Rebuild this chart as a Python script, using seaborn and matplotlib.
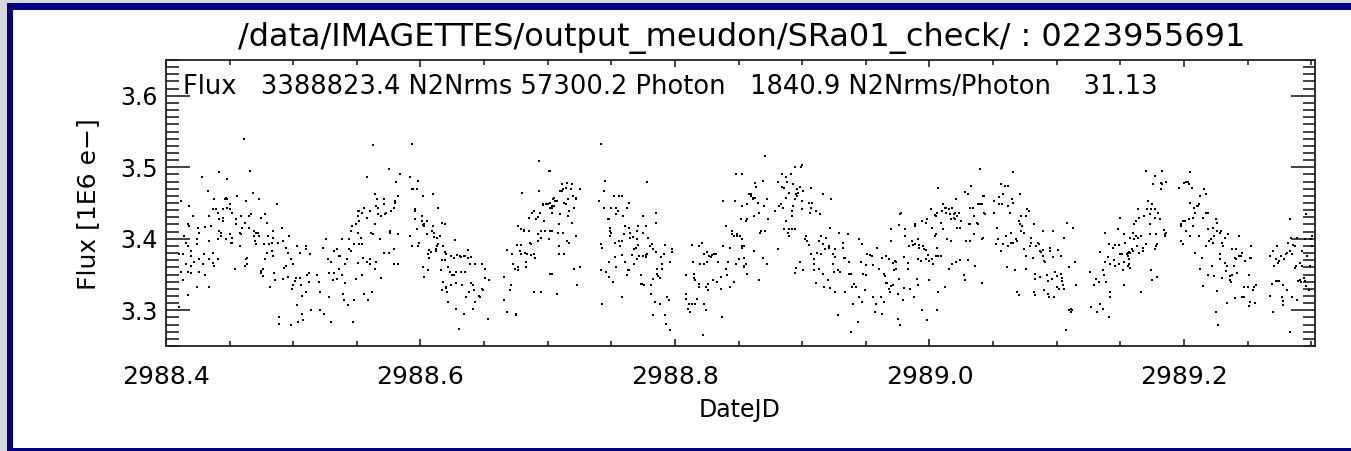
import numpy as np
import pandas as pd
import seaborn as sns
import matplotlib.pyplot as plt
from matplotlib.ticker import MultipleLocator, FormatStrFormatter
from matplotlib.patches import Rectangle

# time offsets (days from t0) and flux (1E6 e-)
t0 = 2988.4

seg_1 = [(.012,3.453),(.018,3.446),(.021,3.432),(.017,3.420),(.018,3.418),(.014,3.404),(.016,3.394),(.010,3.378),(.013,3.378),
 (.012,3.354),(.013,3.342),(.017,3.390),(.016,3.364),(.020,3.383),(.020,3.376),(.020,3.362),(.017,3.354),(.020,3.352),(.022,3.368),
 (.024,3.392),(.025,3.415),(.024,3.399),(.026,3.371),(.026,3.354),(.024,3.333),(.017,3.321),(.010,3.305),(.028,3.486),(.026,3.408),
 (.031,3.416),(.030,3.378),(.029,3.364),(.031,3.349),(.033,3.467),(.034,3.432),(.034,3.397),(.034,3.371),(.034,3.333),(.035,3.418),
 (.037,3.441),(.037,3.380),(.037,3.366),(.038,3.362),(.039,3.441),(.038,3.455),(.041,3.399),(.041,3.371),(.041,3.436),(.042,3.427),
 (.042,3.493),(.042,3.411),(.043,3.404),(.043,3.408),(.045,3.441),(.045,3.429),(.045,3.425),(.046,3.455),(.047,3.457),(.048,3.484),
 (.048,3.443),(.048,3.455),(.050,3.448),(.050,3.441),(.047,3.399),(.050,3.406),(.051,3.394),(.052,3.394),(.052,3.436),(.052,3.401),
 (.054,3.358),(.055,3.427),(.055,3.420),(.056,3.460),(.058,3.408),(.058,3.390),(.059,3.432),(.059,3.406),(.060,3.415),(.061,3.540),
 (.062,3.422),(.062,3.362),(.063,3.371),(.063,3.453),(.064,3.373),(.064,3.365),(.065,3.432),(.065,3.415),(.066,3.495),(.067,3.434),
 (.068,3.464),(.069,3.404),(.069,3.411),(.070,3.397),(.071,3.392),(.071,3.408),(.072,3.408),(.073,3.456),(.073,3.404),(.075,3.429),
 (.075,3.355),(.075,3.352),(.076,3.357),(.076,3.348),(.077,3.392),(.078,3.434),(.078,3.371),(.079,3.422),(.079,3.380),(.080,3.404),
 (.081,3.392),(.082,3.333),(.083,3.394),(.083,3.383),(.084,3.376),(.084,3.411),(.084,3.401),(.085,3.352),(.086,3.342),(.087,3.448),
 (.088,3.394),(.089,3.290),(.089,3.281),(.091,3.415),(.092,3.344),(.092,3.397),(.093,3.359),(.094,3.362),(.094,3.387),(.096,3.347),
 (.096,3.380),(.097,3.404),(.098,3.279),(.098,3.371),(.099,3.330),(.100,3.336),(.100,3.365),(.101,3.341),(.102,3.345),(.103,3.307),
 (.103,3.390),(.104,3.284),(.105,3.345),(.105,3.380),(.106,3.335),(.107,3.295),(.107,3.320),(.108,3.286),(.110,3.390),(.110,3.385),
 (.110,3.326),(.111,3.349),(.112,3.352),(.112,3.339),(.113,3.378),(.114,3.300),(.119,3.350),(.120,3.339),(.121,3.300),(.121,3.326),
 (.123,3.387),(.124,3.295),(.126,3.399),(.127,3.371),(.128,3.318),(.128,3.352),(.130,3.367),(.130,3.284),(.131,3.343),(.132,3.352),
 (.132,3.383),(.134,3.385),(.134,3.344),(.136,3.376),(.136,3.357),(.137,3.376),(.138,3.350),(.138,3.399),(.139,3.323),(.140,3.314),
 (.141,3.365),(.141,3.338),(.142,3.371),(.143,3.307),(.144,3.399),(.144,3.385),(.145,3.383),(.145,3.411),(.146,3.418),(.147,3.284),
 (.148,3.314),(.148,3.392),(.149,3.344),(.149,3.420),(.151,3.432),(.151,3.366),(.152,3.439)]

seg_2 = [(.151,3.439),(.152,3.425),(.151,3.408),(.152,3.392),(.154,3.392),(.153,3.401),(.151,3.366),(.154,3.436),(.155,3.373),
 (.154,3.349),(.156,3.443),(.158,3.429),(.158,3.368),(.158,3.486),(.159,3.314),(.156,3.323),(.160,3.439),(.160,3.365),(.160,3.371),
 (.161,3.408),(.163,3.531),(.162,3.326),(.163,3.406),(.164,3.462),(.164,3.420),(.164,3.358),(.165,3.446),(.165,3.367),(.166,3.455),
 (.167,3.434),(.167,3.443),(.168,3.399),(.169,3.432),(.169,3.345),(.171,3.455),(.171,3.448),(.171,3.380),(.172,3.434),(.173,3.436),
 (.175,3.498),(.175,3.380),(.176,3.411),(.176,3.408),(.177,3.439),(.179,3.443),(.179,3.385),(.179,3.364),(.180,3.453),(.180,3.450),
 (.181,3.479),(.182,3.460),(.182,3.406),(.182,3.365),(.184,3.491),(.192,3.486),(.192,3.404),(.193,3.533),(.193,3.470),(.193,3.390),
 (.194,3.470),(.196,3.441),(.196,3.439),(.197,3.470),(.196,3.427),(.197,3.413),(.198,3.481),(.198,3.390),(.199,3.394),(.201,3.432),
 (.201,3.425),(.202,3.460),(.202,3.419),(.203,3.418),(.203,3.420),(.202,3.361),(.203,3.347),(.205,3.425),(.205,3.406),(.206,3.379),
 (.206,3.356),(.207,3.373),(.207,3.384),(.208,3.382),(.209,3.411),(.210,3.418),(.210,3.462),(.211,3.403),(.211,3.408),(.212,3.385),
 (.212,3.383),(.213,3.390),(.213,3.401),(.214,3.443),(.214,3.392),(.215,3.404),(.216,3.356),(.217,3.422),(.217,3.370),(.217,3.328),
 (.218,3.390),(.218,3.340),(.219,3.382),(.219,3.420),(.219,3.370),(.220,3.333),(.220,3.378),(.220,3.331),(.221,3.326),(.222,3.361),
 (.222,3.311),(.223,3.354),(.224,3.376),(.224,3.335),(.225,3.349),(.226,3.373),(.226,3.349),(.227,3.398),(.228,3.354),(.228,3.302),
 (.228,3.338),(.229,3.377),(.230,3.274),(.231,3.376),(.232,3.375),(.232,3.354),(.233,3.335),(.234,3.376),(.234,3.295),(.235,3.376),
 (.235,3.354),(.236,3.318),(.237,3.373),(.237,3.384),(.238,3.326),(.239,3.365),(.240,3.338),(.240,3.375),(.241,3.335),(.241,3.302),
 (.242,3.328),(.243,3.365),(.243,3.311),(.246,3.320),(.247,3.318),(.248,3.330),(.248,3.365),(.249,3.328),(.251,3.358),(.251,3.345),
 (.253,3.288),(.254,3.342),(.266,3.347),(.266,3.314),(.268,3.298),(.268,3.384),(.270,3.328),(.271,3.335),(.272,3.379),(.273,3.365),
 (.274,3.358),(.275,3.295),(.275,3.293),(.276,3.391),(.276,3.391),(.277,3.361),(.277,3.356),(.277,3.418),(.278,3.383),(.279,3.391),
 (.279,3.413),(.279,3.379),(.280,3.464),(.281,3.411),(.281,3.412),(.282,3.380),(.283,3.367),(.283,3.361),(.284,3.379),(.285,3.429),
 (.285,3.411),(.286,3.394),(.287,3.392),(.287,3.377),(.288,3.436),(.289,3.439),(.289,3.379),(.289,3.326),(.290,3.373),(.290,3.373),
 (.291,3.427),(.292,3.406),(.292,3.431),(.292,3.397),(.293,3.509),(.293,3.467),(.294,3.436),(.295,3.401),(.295,3.411),(.295,3.326),
 (.296,3.448),(.296,3.447),(.297,3.425),(.298,3.411),(.299,3.448),(.300,3.449),(.301,3.399),(.301,3.495),(.302,3.450),(.302,3.443),
 (.303,3.411),(.303,3.351),(.303,3.436),(.304,3.456)]

seg_3 = [(.302,3.495),(.302,3.411),(.302,3.351),(.303,3.446),(.303,3.443),(.304,3.455),(.305,3.457),(.305,3.446),(.306,3.453),
 (.307,3.323),(.307,3.453),(.308,3.408),(.309,3.390),(.309,3.379),(.309,3.390),(.309,3.420),(.310,3.467),(.310,3.434),(.311,3.476),
 (.311,3.467),(.312,3.408),(.312,3.469),(.313,3.450),(.313,3.379),(.314,3.448),(.314,3.471),(.315,3.397),(.315,3.478),(.316,3.432),
 (.316,3.455),(.317,3.439),(.317,3.394),(.318,3.469),(.319,3.422),(.319,3.476),(.320,3.460),(.321,3.443),(.321,3.358),(.322,3.457),
 (.322,3.456),(.322,3.404),(.323,3.335),(.325,3.470),(.325,3.361),(.340,3.453),(.342,3.533),(.342,3.392),(.342,3.356),(.343,3.309),
 (.343,3.387),(.344,3.467),(.344,3.443),(.345,3.481),(.346,3.354),(.347,3.427),(.348,3.367),(.348,3.347),(.348,3.427),(.349,3.415),
 (.349,3.411),(.349,3.404),(.350,3.443),(.350,3.408),(.351,3.339),(.352,3.460),(.353,3.394),(.353,3.375),(.354,3.443),(.354,3.434),
 (.354,3.361),(.355,3.439),(.356,3.397),(.356,3.460),(.357,3.390),(.358,3.377),(.358,3.460),(.358,3.397),(.358,3.318),(.359,3.432),
 (.360,3.406),(.361,3.418),(.361,3.368),(.362,3.443),(.362,3.349),(.363,3.356),(.364,3.415),(.364,3.356),(.364,3.450),(.365,3.401),
 (.365,3.408),(.366,3.377),(.367,3.402),(.368,3.365),(.368,3.385),(.369,3.387),(.370,3.371),(.370,3.411),(.370,3.399),(.371,3.391),
 (.371,3.418),(.372,3.376),(.373,3.349),(.373,3.337),(.374,3.337),(.375,3.376),(.375,3.432),(.375,3.408),(.376,3.335),(.377,3.375),
 (.377,3.418),(.377,3.377),(.378,3.479),(.378,3.378),(.379,3.401),(.380,3.390),(.381,3.323),(.381,3.335),(.382,3.393),(.383,3.344),
 (.383,3.386),(.383,3.293),(.384,3.311),(.385,3.436),(.385,3.382),(.385,3.422),(.386,3.358),(.386,3.351),(.387,3.348),(.388,3.309),
 (.388,3.345),(.389,3.375),(.390,3.358),(.390,3.364),(.391,3.379),(.392,3.293),(.392,3.391),(.393,3.281),(.394,3.318),(.395,3.314),
 (.396,3.272),(.396,3.368),(.398,3.386),(.398,3.382),(.409,3.349),(.409,3.323),(.409,3.316),(.410,3.302),(.411,3.309),(.412,3.298),
 (.413,3.309),(.413,3.391),(.414,3.368),(.415,3.351),(.415,3.345),(.416,3.342),(.416,3.309),(.417,3.316),(.419,3.332),(.419,3.390),
 (.419,3.337),(.420,3.364),(.421,3.394),(.422,3.266),(.423,3.379),(.423,3.309),(.423,3.364),(.424,3.300),(.424,3.332),(.425,3.382),
 (.425,3.368),(.426,3.337),(.426,3.328),(.427,3.376),(.428,3.375),(.429,3.377),(.430,3.342),(.431,3.379),(.432,3.379),(.432,3.379),
 (.433,3.339),(.434,3.368),(.434,3.368),(.436,3.347),(.436,3.330),(.437,3.290),(.438,3.453),(.438,3.390),(.440,3.418),(.440,3.358),
 (.441,3.349),(.442,3.368),(.443,3.387),(.443,3.332),(.445,3.411),(.445,3.406),(.446,3.404),(.446,3.339),(.447,3.453),(.448,3.365),
 (.448,3.491),(.449,3.406),(.449,3.404),(.450,3.371),(.451,3.404),(.452,3.427),(.453,3.446),(.453,3.387),(.453,3.390),(.454,3.373),
 (.454,3.362)]

seg_4 = [(.453,3.491),(.453,3.446),(.453,3.399),(.454,3.390),(.454,3.361),(.456,3.365),(.456,3.425),(.457,3.427),(.457,3.351),
 (.457,3.448),(.458,3.462),(.460,3.462),(.460,3.460),(.461,3.457),(.461,3.455),(.462,3.432),(.462,3.383),(.463,3.457),(.463,3.478),
 (.464,3.473),(.465,3.450),(.466,3.342),(.466,3.436),(.467,3.408),(.468,3.411),(.469,3.481),(.469,3.373),(.470,3.446),(.471,3.516),
 (.471,3.411),(.472,3.455),(.472,3.364),(.473,3.427),(.479,3.439),(.481,3.480),(.481,3.385),(.482,3.446),(.483,3.448),(.484,3.491),
 (.484,3.473),(.485,3.443),(.486,3.471),(.486,3.413),(.487,3.425),(.487,3.457),(.487,3.486),(.488,3.480),(.488,3.480),(.489,3.408),
 (.490,3.413),(.490,3.404),(.490,3.464),(.491,3.491),(.492,3.432),(.492,3.439),(.492,3.413),(.493,3.477),(.493,3.446),(.494,3.413),
 (.494,3.500),(.494,3.352),(.494,3.456),(.495,3.462),(.495,3.359),(.496,3.460),(.496,3.469),(.497,3.464),(.498,3.472),(.498,3.368),
 (.499,3.501),(.500,3.441),(.500,3.503),(.500,3.453),(.501,3.356),(.501,3.467),(.502,3.399),(.503,3.404),(.504,3.397),(.505,3.450),
 (.505,3.391),(.506,3.436),(.507,3.443),(.507,3.379),(.507,3.471),(.508,3.450),(.509,3.365),(.509,3.356),(.509,3.372),(.511,3.338),
 (.511,3.439),(.512,3.380),(.513,3.397),(.513,3.358),(.514,3.434),(.515,3.378),(.515,3.404),(.516,3.392),(.516,3.351),(.516,3.463),
 (.517,3.333),(.518,3.385),(.519,3.401),(.520,3.342),(.521,3.390),(.521,3.387),(.522,3.331),(.522,3.415),(.523,3.456),(.524,3.365),
 (.524,3.379),(.525,3.354),(.526,3.385),(.526,3.375),(.526,3.326),(.528,3.293),(.528,3.356),(.529,3.408),(.530,3.354),(.530,3.354),
 (.532,3.394),(.532,3.387),(.533,3.373),(.534,3.326),(.534,3.373),(.536,3.406),(.537,3.351),(.537,3.367),(.538,3.351),(.538,3.269),
 (.539,3.332),(.540,3.309),(.541,3.337),(.542,3.332),(.542,3.332),(.544,3.284),(.545,3.399),(.545,3.318),(.546,3.368),(.547,3.393),
 (.547,3.311),(.548,3.351),(.549,3.328),(.550,3.363),(.550,3.349),(.551,3.378),(.553,3.377),(.555,3.376),(.556,3.318),(.556,3.363),
 (.557,3.298),(.558,3.309),(.559,3.387),(.560,3.358),(.562,3.318),(.563,3.373),(.563,3.295),(.564,3.312),(.564,3.351),(.565,3.348),
 (.566,3.376),(.566,3.338),(.567,3.338),(.568,3.330),(.568,3.371),(.569,3.326),(.570,3.397),(.570,3.413),(.570,3.334),(.571,3.366),
 (.571,3.335),(.572,3.356),(.573,3.369),(.574,3.358),(.574,3.368),(.575,3.323),(.575,3.288),(.576,3.344),(.576,3.419),(.577,3.279),
 (.577,3.434),(.578,3.436),(.579,3.314),(.580,3.375),(.580,3.331),(.581,3.404),(.581,3.413),(.583,3.358),(.583,3.366),(.584,3.390),
 (.585,3.330),(.586,3.397),(.587,3.391),(.588,3.318),(.589,3.392),(.589,3.420),(.589,3.418),(.590,3.344),(.591,3.336),(.591,3.371),
 (.591,3.399),(.592,3.391),(.592,3.387),(.593,3.369),(.594,3.425),(.594,3.300),(.595,3.390),(.596,3.386),(.597,3.384),(.597,3.422),
 (.597,3.371),(.598,3.286),(.598,3.428),(.599,3.377),(.600,3.369),(.600,3.342),(.601,3.441),(.602,3.415),(.602,3.371),(.603,3.364),
 (.604,3.404),(.604,3.433),(.605,3.376),(.605,3.406)]

seg_5 = [(.604,3.404),(.605,3.432),(.606,3.436),(.606,3.387),(.606,3.300),(.607,3.376),(.607,3.471),(.607,3.326),(.609,3.422),
 (.609,3.376),(.610,3.439),(.611,3.448),(.611,3.413),(.612,3.443),(.612,3.333),(.613,3.436),(.613,3.443),(.614,3.399),(.615,3.358),
 (.615,3.441),(.616,3.434),(.617,3.427),(.617,3.397),(.618,3.443),(.618,3.365),(.619,3.434),(.619,3.429),(.620,3.427),(.620,3.436),
 (.621,3.368),(.621,3.455),(.622,3.415),(.622,3.432),(.623,3.436),(.624,3.370),(.624,3.415),(.625,3.425),(.627,3.349),(.628,3.342),
 (.628,3.465),(.629,3.397),(.630,3.463),(.630,3.370),(.631,3.420),(.632,3.443),(.632,3.397),(.632,3.420),(.633,3.474),(.634,3.443),
 (.635,3.432),(.635,3.406),(.636,3.362),(.637,3.422),(.638,3.420),(.638,3.448),(.639,3.448),(.640,3.498),(.640,3.449),(.641,3.338),
 (.641,3.399),(.641,3.448),(.642,3.460),(.642,3.401),(.643,3.460),(.643,3.436),(.644,3.434),(.651,3.453),(.651,3.436),(.652,3.392),
 (.653,3.415),(.654,3.399),(.655,3.448),(.655,3.458),(.656,3.383),(.656,3.476),(.657,3.448),(.658,3.392),(.658,3.462),(.659,3.474),
 (.660,3.404),(.661,3.361),(.662,3.474),(.662,3.390),(.662,3.446),(.663,3.436),(.664,3.394),(.664,3.408),(.665,3.455),(.666,3.493),
 (.666,3.394),(.666,3.450),(.667,3.356),(.668,3.399),(.669,3.326),(.669,3.397),(.670,3.321),(.670,3.425),(.671,3.462),(.671,3.420),
 (.672,3.432),(.672,3.411),(.673,3.418),(.674,3.385),(.674,3.408),(.676,3.358),(.676,3.432),(.676,3.376),(.677,3.441),(.678,3.439),
 (.679,3.390),(.680,3.401),(.680,3.394),(.681,3.373),(.682,3.326),(.682,3.420),(.683,3.344),(.683,3.321),(.683,3.351),(.684,3.390),
 (.685,3.394),(.686,3.392),(.687,3.346),(.687,3.383),(.688,3.381),(.689,3.411),(.689,3.376),(.689,3.384),(.690,3.369),(.690,3.328),
 (.691,3.368),(.692,3.350),(.693,3.323),(.693,3.341),(.694,3.318),(.695,3.387),(.695,3.383),(.696,3.344),(.697,3.411),(.697,3.375),
 (.698,3.318),(.699,3.353),(.700,3.332),(.700,3.348),(.701,3.384),(.702,3.330),(.703,3.376),(.703,3.351),(.704,3.341),(.704,3.345),
 (.705,3.335),(.706,3.401),(.706,3.330),(.707,3.272),(.708,3.422),(.710,3.300),(.710,3.361),(.711,3.302),(.711,3.297),(.712,3.300),
 (.713,3.415),(.714,3.367),(.715,3.335),(.726,3.354),(.727,3.305),(.729,3.335),(.731,3.344),(.732,3.298),(.733,3.339),(.734,3.382),
 (.734,3.309),(.736,3.356),(.736,3.302),(.737,3.349),(.738,3.368),(.738,3.408),(.739,3.339),(.740,3.375),(.741,3.392),(.741,3.290),
 (.742,3.365),(.742,3.326),(.742,3.318),(.744,3.387),(.744,3.387),(.745,3.370),(.746,3.391),(.746,3.362),(.748,3.413),(.749,3.391),
 (.749,3.365),(.750,3.379),(.750,3.429),(.751,3.378),(.752,3.356),(.753,3.406),(.753,3.335),(.753,3.368),(.754,3.394),(.755,3.379),
 (.756,3.380),(.756,3.362),(.757,3.381)]

seg_6 = [(.754,3.394),(.756,3.376),(.757,3.371),(.757,3.364),(.758,3.359),(.758,3.380),(.758,3.401),(.759,3.385),(.760,3.408),
 (.760,3.383),(.761,3.420),(.761,3.399),(.762,3.425),(.762,3.404),(.763,3.390),(.764,3.401),(.764,3.441),(.765,3.380),(.765,3.429),
 (.766,3.404),(.766,3.326),(.768,3.387),(.768,3.383),(.769,3.432),(.770,3.495),(.770,3.392),(.771,3.441),(.772,3.453),(.773,3.434),
 (.773,3.406),(.773,3.420),(.774,3.441),(.774,3.356),(.775,3.448),(.775,3.342),(.776,3.477),(.777,3.488),(.777,3.429),(.777,3.385),
 (.777,3.441),(.778,3.406),(.778,3.390),(.779,3.347),(.779,3.392),(.780,3.436),(.781,3.427),(.782,3.478),(.782,3.470),(.783,3.477),
 (.783,3.495),(.784,3.412),(.785,3.404),(.785,3.406),(.786,3.480),(.786,3.408),(.796,3.471),(.798,3.418),(.798,3.397),(.798,3.420),
 (.799,3.392),(.799,3.425),(.800,3.478),(.801,3.425),(.802,3.480),(.802,3.411),(.803,3.480),(.804,3.476),(.804,3.427),(.805,3.404),
 (.805,3.450),(.805,3.493),(.806,3.471),(.807,3.429),(.807,3.418),(.808,3.443),(.809,3.436),(.809,3.380),(.810,3.446),(.811,3.446),
 (.812,3.404),(.812,3.448),(.813,3.357),(.813,3.460),(.814,3.373),(.815,3.429),(.815,3.334),(.816,3.469),(.817,3.462),(.817,3.436),
 (.817,3.390),(.819,3.413),(.819,3.350),(.819,3.436),(.820,3.397),(.821,3.399),(.822,3.362),(.823,3.415),(.823,3.394),(.824,3.404),
 (.824,3.348),(.825,3.297),(.825,3.427),(.826,3.411),(.826,3.422),(.826,3.327),(.827,3.280),(.828,3.378),(.828,3.408),(.828,3.371),
 (.829,3.411),(.830,3.345),(.830,3.394),(.831,3.390),(.832,3.366),(.832,3.401),(.833,3.355),(.834,3.310),(.834,3.362),(.835,3.406),
 (.836,3.348),(.836,3.343),(.837,3.339),(.838,3.350),(.838,3.385),(.839,3.362),(.840,3.373),(.840,3.317),(.841,3.385),(.841,3.371),
 (.842,3.352),(.843,3.404),(.843,3.376),(.845,3.376),(.846,3.380),(.846,3.319),(.847,3.332),(.847,3.319),(.848,3.369),(.850,3.332),
 (.851,3.306),(.851,3.350),(.852,3.373),(.853,3.373),(.852,3.311),(.853,3.390),(.854,3.329),(.855,3.332),(.856,3.310),(.857,3.336),
 (.868,3.320),(.868,3.376),(.869,3.337),(.870,3.383),(.870,3.297),(.871,3.362),(.872,3.371),(.872,3.341),(.873,3.390),(.874,3.366),
 (.874,3.341),(.875,3.369),(.875,3.341),(.876,3.376),(.877,3.319),(.878,3.313),(.878,3.308),(.878,3.336),(.879,3.371),(.880,3.378),
 (.881,3.380),(.881,3.329),(.882,3.394),(.883,3.383),(.883,3.427),(.883,3.269),(.884,3.401),(.885,3.318),(.885,3.378),(.886,3.391),
 (.887,3.390),(.887,3.359),(.888,3.362),(.889,3.315),(.889,3.401),(.890,3.341),(.891,3.343),(.891,3.366),(.892,3.339),(.893,3.383),
 (.893,3.362),(.894,3.345),(.895,3.341),(.895,3.399),(.896,3.434),(.896,3.334),(.897,3.376),(.898,3.329),(.899,3.399),(.899,3.362),
 (.900,3.399),(.901,3.390),(.901,3.404)]

title = "/data/IMAGETTES/output_meudon/SRa01_check/ : 0223955691"
info = "Flux   3388823.4 N2Nrms 57300.2 Photon   1840.9 N2Nrms/Photon    31.13"

pts = np.array(seg_1 + seg_2 + seg_3 + seg_4 + seg_5 + seg_6)
df = pd.DataFrame({"DateJD": t0 + pts[:, 0], "Flux": pts[:, 1]})

sns.set_style("ticks")
plt.rcParams["font.family"] = ["DejaVu Sans"]
plt.rcParams["text.color"] = "black"
plt.rcParams["xtick.labelcolor"] = "black"
plt.rcParams["ytick.labelcolor"] = "black"

W, H = 1351, 451
fig = plt.figure(figsize=(W / 100, H / 100), dpi=100, facecolor="#d6d6de")
# navy frame and white panel, like the IDL window
fig.add_artist(Rectangle((7 / W, 0), 1, 448 / H, transform=fig.transFigure,
                         facecolor="#000080", edgecolor="none", zorder=-10))
fig.add_artist(Rectangle((13 / W, 3 / H), 1, 438 / H, transform=fig.transFigure,
                         facecolor="white", edgecolor="none", zorder=-9))

ax = fig.add_axes([166 / W, 105 / H, 1149 / W, 286 / H])
sns.scatterplot(data=df, x="DateJD", y="Flux", ax=ax, marker="s", s=3,
                color="black", linewidth=0, legend=False)

ax.set_xlim(2988.4, 2989.303)
ax.set_ylim(3.25, 3.65)
ax.xaxis.set_major_locator(MultipleLocator(0.2))
ax.xaxis.set_minor_locator(MultipleLocator(0.05))
ax.yaxis.set_major_locator(MultipleLocator(0.1))
ax.yaxis.set_minor_locator(MultipleLocator(0.01))
ax.xaxis.set_major_formatter(FormatStrFormatter("%.1f"))
ax.yaxis.set_major_formatter(FormatStrFormatter("%.1f"))
ax.set_xlabel("")
ax.set_ylabel("")

for s in ax.spines.values():
    s.set_linewidth(1.3)
    s.set_color("#222222")
ax.tick_params(axis="x", which="both", direction="in", top=True, bottom=True,
               width=1.2, color="#222222", labelsize=18, pad=14)
ax.tick_params(axis="x", which="major", length=5)
ax.tick_params(axis="x", which="minor", length=3.5)
ax.tick_params(axis="y", which="both", direction="in", left=True, right=True,
               width=1.2, color="#222222", labelsize=17, pad=6)
ax.tick_params(axis="y", which="major", length=17)
ax.tick_params(axis="y", which="minor", length=9)

fig.text(742 / W, 1 - 38 / H, title, ha="center", va="center", fontsize=23)
fig.text(183 / W, 1 - 87 / H, info, ha="left", va="center", fontsize=18.5)
fig.text(88 / W, 1 - 204 / H, "Flux [1E6 e\u2212]", rotation=90,
         ha="center", va="center", fontsize=18)
fig.text(740 / W, 1 - 410 / H, "DateJD", ha="center", va="center", fontsize=17)

fig.savefig("out.png", dpi=100, facecolor=fig.get_facecolor())
